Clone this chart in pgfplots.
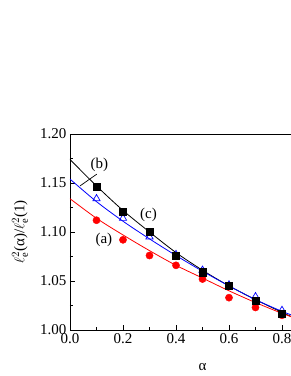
\documentclass[border=0pt]{standalone}
\usepackage{pgfplots}
\pgfplotsset{compat=1.18}
\usepackage{fontspec}
\setmainfont{Liberation Serif}
\begin{document}
\begin{tikzpicture}[x=1pt,y=1pt]
\path[use as bounding box] (-70,-46) rectangle (221,330);
\begin{axis}[
  at={(0,0)}, anchor=south west,
  scale only axis, width=225.25pt, height=196pt,
  xmin=0, xmax=0.85, ymin=1.0, ymax=1.2,
  xtick={0,0.2,0.4,0.6,0.8}, ytick={1.00,1.05,1.10,1.15,1.20},
  minor x tick num=1, minor y tick num=1,
  xtick pos=bottom, ytick pos=left,
  tick align=inside,
  major tick length=5pt, minor tick length=3pt,
  tick style={black, line width=0.6pt},
  axis line style={line width=0.7pt},
  /pgf/number format/assume math mode=true,
  xticklabel style={/pgf/number format/.cd, fixed, fixed zerofill, precision=1},
  yticklabel style={/pgf/number format/.cd, fixed, fixed zerofill, precision=2},
  tick label style={font=\fontsize{15}{18}\selectfont},
  label style={font=\fontsize{15}{18}\selectfont},
  xlabel={α},
  xlabel style={at={(axis description cs:0.588,-0.189)}, anchor=center},
  ylabel={$\ell_{\mathrm{e}}^{2}$(α)/$\ell_{\mathrm{e}}^{2}$(1)},
  ylabel style={at={(axis description cs:-0.222,0.5)}, anchor=center},
  clip=true,
]
% fitted curves
\addplot[black, line width=0.8pt, smooth] coordinates {
 (0,1.174) (0.1,1.147) (0.2,1.122) (0.3,1.100) (0.4,1.079) (0.5,1.061) (0.6,1.045) (0.7,1.031) (0.8,1.018) (0.85,1.012)};
\addplot[blue, line width=0.8pt, smooth] coordinates {
 (0,1.154) (0.1,1.131) (0.2,1.111) (0.3,1.093) (0.4,1.076) (0.5,1.060) (0.6,1.045) (0.7,1.031) (0.8,1.019) (0.85,1.014)};
\addplot[red, line width=0.8pt, smooth] coordinates {
 (0,1.134) (0.1,1.114) (0.2,1.097) (0.3,1.081) (0.4,1.066) (0.5,1.053) (0.6,1.040) (0.7,1.028) (0.8,1.017) (0.85,1.012)};
% data points
\addplot[only marks, mark=*, color=red, mark size=3.6pt] coordinates {
 (0.1,1.112) (0.2,1.092) (0.3,1.076) (0.4,1.066) (0.5,1.052) (0.6,1.033) (0.7,1.023) (0.8,1.015)};
\addplot[only marks, mark=triangle, color=blue, mark size=4.2pt, mark options={line width=0.7pt}] coordinates {
 (0.1,1.134) (0.2,1.114) (0.3,1.095) (0.4,1.077) (0.5,1.061) (0.6,1.046) (0.7,1.034) (0.8,1.020)};
\addplot[only marks, mark=square*, color=black, mark size=3.6pt] coordinates {
 (0.1,1.146) (0.2,1.121) (0.3,1.100) (0.4,1.076) (0.5,1.059) (0.6,1.045) (0.7,1.030) (0.8,1.017)};
% labels
\draw[black, line width=0.7pt] (axis cs:0.1008,1.159) -- (axis cs:0.0377,1.147);
\node[font=\fontsize{15}{18}\selectfont] at (axis cs:0.111,1.168) {(b)};
\node[font=\fontsize{15}{18}\selectfont] at (axis cs:0.296,1.117) {(c)};
\node[font=\fontsize{15}{18}\selectfont] at (axis cs:0.128,1.092) {(a)};
\end{axis}
\end{tikzpicture}
\end{document}
